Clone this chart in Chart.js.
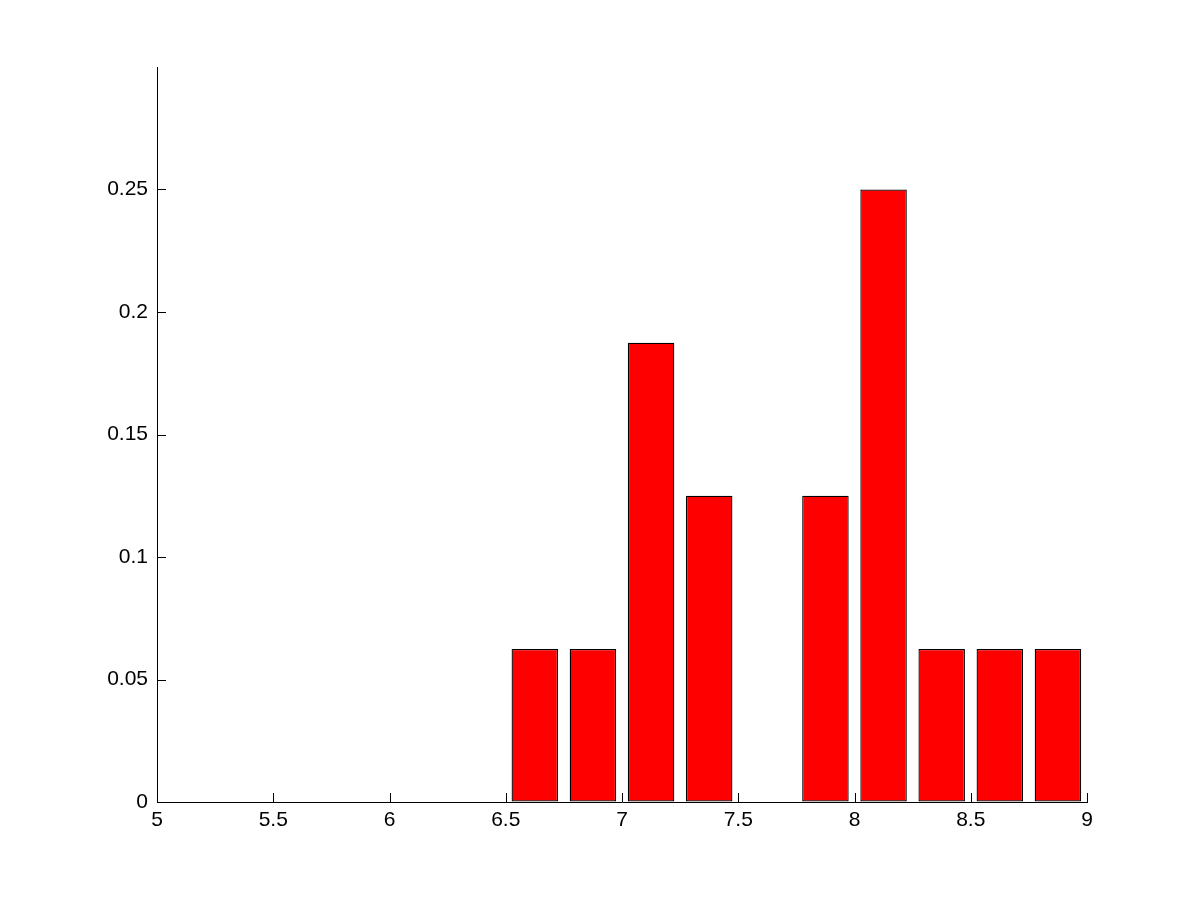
<!DOCTYPE html>
<html>
<head>
<meta charset="utf-8">
<script src="https://cdn.jsdelivr.net/npm/chart.js@4.4.0/dist/chart.umd.min.js"></script>
<style>
  html, body { margin: 0; padding: 0; background: #fff; }
  #wrap { width: 1201px; height: 901px; }
</style>
</head>
<body>
<div id="wrap"><canvas id="chart" width="1201" height="901"></canvas></div>
<script>
// bin centres (width 0.25) and relative frequencies
const binCenters = [6.625, 6.875, 7.125, 7.375, 7.625, 7.875, 8.125, 8.375, 8.625, 8.875];
const frequencies = [0.0625, 0.0625, 0.1875, 0.125, 0, 0.125, 0.25, 0.0625, 0.0625, 0.0625];
const xTicks = [5, 5.5, 6, 6.5, 7, 7.5, 8, 8.5, 9];
const yTicks = [0, 0.05, 0.1, 0.15, 0.2, 0.25];

// matlab style ticks pointing into the plot
const inwardTicks = {
  id: 'inwardTicks',
  afterDraw(chart) {
    const { ctx, chartArea, scales } = chart;
    ctx.save();
    ctx.strokeStyle = '#000';
    ctx.lineWidth = 1;
    ctx.beginPath();
    xTicks.forEach((v) => {
      const px = Math.round(scales.x.getPixelForValue(v)) + 0.5;
      ctx.moveTo(px, chartArea.bottom);
      ctx.lineTo(px, chartArea.bottom - 9);
    });
    yTicks.forEach((v) => {
      const py = Math.round(scales.y.getPixelForValue(v)) + 0.5;
      ctx.moveTo(chartArea.left, py);
      ctx.lineTo(chartArea.left + 9, py);
    });
    ctx.stroke();
    ctx.restore();
  }
};

new Chart(document.getElementById('chart'), {
  type: 'bar',
  data: {
    datasets: [
      {
        data: binCenters.map((x, i) => ({ x, y: frequencies[i] })),
        backgroundColor: '#ff0000',
        borderColor: '#000000',
        borderWidth: 1.3,
        borderSkipped: false,
        barPercentage: 0.8,
        categoryPercentage: 1
      }
    ]
  },
  options: {
    responsive: false,
    animation: false,
    layout: { padding: { top: 67, right: 114, left: 0, bottom: 0 } },
    plugins: { legend: { display: false }, tooltip: { enabled: false } },
    scales: {
      x: {
        type: 'linear',
        min: 5,
        max: 9,
        offset: false,
        afterFit: (s) => { s.height = 99; },
        afterBuildTicks: (s) => { s.ticks = xTicks.map((v) => ({ value: v })); },
        grid: { drawOnChartArea: false, drawTicks: false },
        border: { color: '#000', width: 1 },
        ticks: {
          color: '#000',
          padding: 6,
          maxRotation: 0,
          font: { family: 'Liberation Sans, Arial, sans-serif', size: 21 },
          callback: (v) => String(v)
        }
      },
      y: {
        min: 0,
        max: 0.3,
        afterFit: (s) => { s.width = 157; },
        afterBuildTicks: (s) => { s.ticks = yTicks.map((v) => ({ value: v })); },
        grid: { drawOnChartArea: false, drawTicks: false },
        border: { color: '#000', width: 1 },
        ticks: {
          color: '#000',
          padding: 9,
          font: { family: 'Liberation Sans, Arial, sans-serif', size: 21 },
          callback: (v) => String(parseFloat(v.toFixed(2)))
        }
      }
    }
  },
  plugins: [inwardTicks]
});
</script>
</body>
</html>
